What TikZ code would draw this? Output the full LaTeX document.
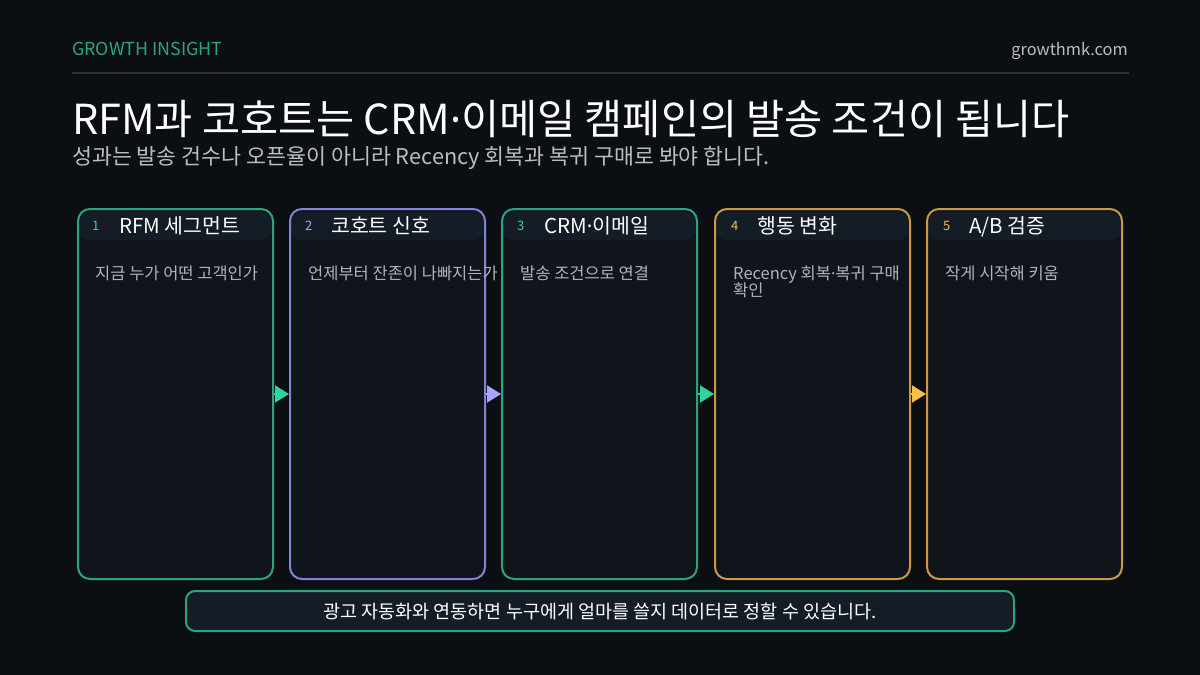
\documentclass[tikz,border=0pt]{standalone}
\usepackage{fontspec}
\setmainfont{Noto Sans CJK KR}
\newfontfamily\latinf{Noto Sans}
\usepackage{xcolor}
\usetikzlibrary{arrows.meta, positioning, calc}

\definecolor{bgdark}{HTML}{0B0E13}
\definecolor{cardfill}{HTML}{0F151B}
\definecolor{headfill}{HTML}{141C25}
\definecolor{rulegray}{HTML}{2B323B}
\definecolor{mint}{HTML}{2BA580}
\definecolor{mintarrow}{HTML}{2ED3A0}
\definecolor{lilac}{HTML}{8184D6}
\definecolor{lilacarrow}{HTML}{A4A7FF}
\definecolor{amber}{HTML}{C99A45}
\definecolor{amberarrow}{HTML}{F5BF4C}
\definecolor{softgray}{HTML}{B9BEC5}
\definecolor{bodygray}{HTML}{AEB4BB}

\newcommand{\fsz}[1]{\fontsize{#1}{#1}\selectfont}
\newcommand{\mdot}{{\latinf ·}}

\begin{document}
\begin{tikzpicture}[x=1pt, y=-1pt]
    \tikzstyle{card} = [rectangle, rounded corners=12pt, line width=2pt, fill=cardfill, minimum width=195pt, minimum height=370pt, inner sep=0pt,
        path picture={\fill[headfill] ($(path picture bounding box.north west)+(0,-3pt)$) rectangle ($(path picture bounding box.north east)+(0,-31pt)$);}]
    \tikzstyle{num} = [anchor=base west, font=\fsz{13}, inner sep=0pt]
    \tikzstyle{cardtitle} = [anchor=base west, font=\fsz{20.5}, text=white, inner sep=0pt]
    \tikzstyle{cardtext} = [anchor=base west, font=\fsz{16.5}, text=bodygray, inner sep=0pt, align=left]
    \tikzstyle{flow} = [line width=2pt, -{Triangle[length=14pt, width=17pt]}]

    % page
    \fill[bgdark] (0,0) rectangle (1200,675);
    \useasboundingbox (0,0) rectangle (1200,675);

    % header
    \node[anchor=base west, inner sep=0pt, font=\fsz{17.9}, text=mint] (brand) at (72,55) {GROWTH INSIGHT};
    \node[anchor=base east, inner sep=0pt, font=\fsz{16.4}, text=softgray] (site) at (1128,55) {growthmk.com};
    \draw[rulegray, line width=1.5pt] (72,73) -- (1129,73);
    \node[anchor=base west, inner sep=0pt, font=\fsz{41.4}, text=white] (title) at (72,134) {RFM과 코호트는 CRM\mdot 이메일 캠페인의 발송 조건이 됩니다};
    \node[anchor=base west, inner sep=0pt, font=\fsz{21.7}, text=softgray] (subtitle) at (72,164) {성과는 발송 건수나 오픈율이 아니라 Recency 회복과 복귀 구매로 봐야 합니다.};

    % cards
    \node[card, draw=mint] (rfm) at (175.5,394) {};
    \node[card, draw=lilac] (cohort) at (387.5,394) {};
    \node[card, draw=mint] (crm) at (599.5,394) {};
    \node[card, draw=amber] (behave) at (812.5,394) {};
    \node[card, draw=amber] (abtest) at (1024.5,394) {};

    \node[num, text=mintarrow] at (92,230) {1};
    \node[cardtitle] at (119,233) {RFM 세그먼트};
    \node[cardtext] at (95,279) {지금 누가 어떤 고객인가};

    \node[num, text=lilacarrow] at (305,230) {2};
    \node[cardtitle] at (331,233) {코호트 신호};
    \node[cardtext] at (308,279) {언제부터 잔존이 나빠지는가};

    \node[num, text=mintarrow] at (517,230) {3};
    \node[cardtitle] at (544,233) {CRM\mdot 이메일};
    \node[cardtext] at (520,279) {발송 조건으로 연결};

    \node[num, text=amberarrow] at (731,230) {4};
    \node[cardtitle] at (757,233) {행동 변화};
    \node[cardtext] at (733,279) {Recency 회복\mdot 복귀 구매};
    \node[cardtext] at (733,296) {확인};

    \node[num, text=amberarrow] at (943,230) {5};
    \node[cardtitle] at (969,233) {A/B 검증};
    \node[cardtext] at (945,279) {작게 시작해 키움};

    % flow
    \draw[flow, mintarrow] (rfm.east) -- (cohort.west);
    \draw[flow, lilacarrow] (cohort.east) -- (crm.west);
    \draw[flow, mintarrow] (crm.east) -- (behave.west);
    \draw[flow, amberarrow] (behave.east) -- (abtest.west);

    % footer note
    \node[rectangle, rounded corners=9pt, draw=mint, line width=2pt, fill=headfill, minimum width=828pt, minimum height=40pt, font=\fsz{18.5}, text=white] (note) at (600,611) {광고 자동화와 연동하면 누구에게 얼마를 쓸지 데이터로 정할 수 있습니다.};
\end{tikzpicture}
\end{document}
